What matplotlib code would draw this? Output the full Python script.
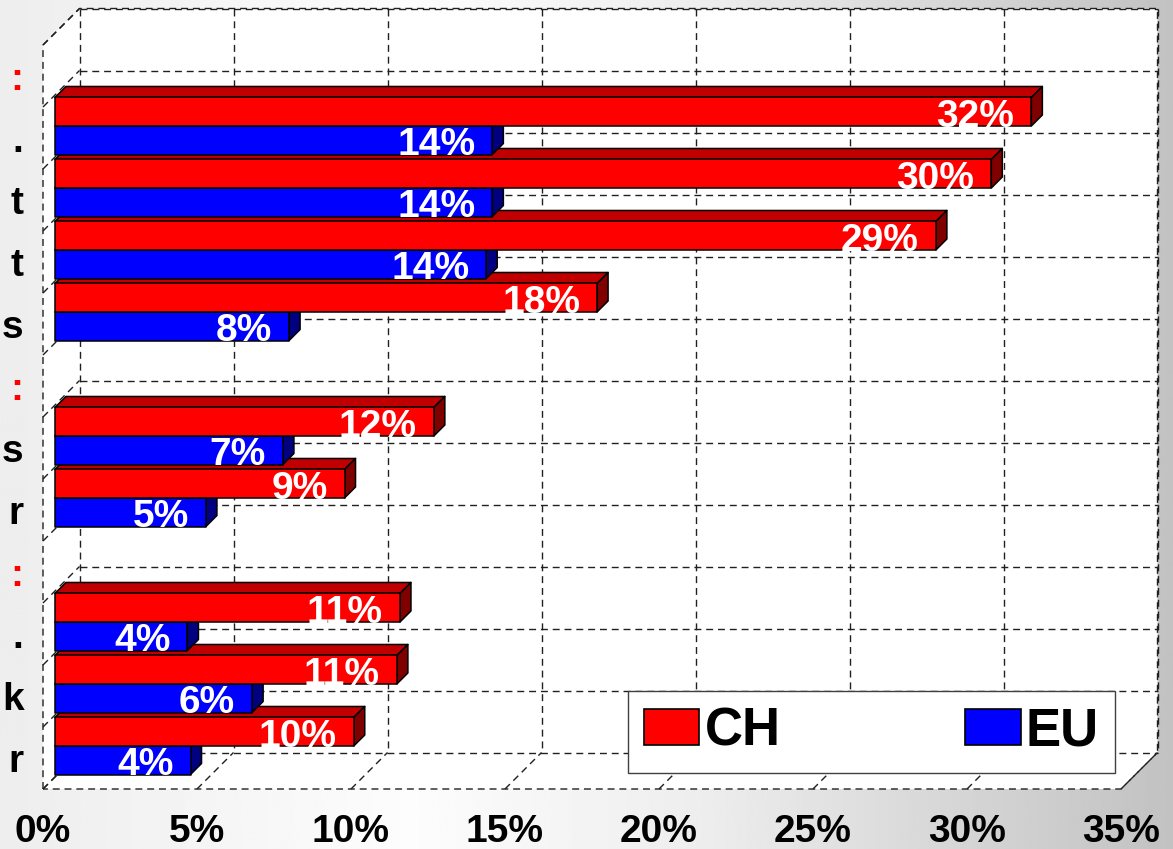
import numpy as np
import matplotlib
matplotlib.use("Agg")
import matplotlib.pyplot as plt
from matplotlib.patches import Polygon, Patch

plt.rcParams["font.family"] = ["Liberation Sans", "DejaVu Sans"]
plt.rcParams["font.weight"] = "bold"

# category rows, top to bottom (left part of the labels is cut off in the source)
row_labels = [":", ".", "t", "t", "s", ":", "s", "r", ":", ".", "k", "r"]
header_rows = [0, 5, 8]
bar_rows = [1, 2, 3, 4, 6, 7, 9, 10, 11]
ch = [31.7, 30.4, 28.6, 17.6, 12.3, 9.4, 11.2, 11.1, 9.7]
eu = [14.2, 14.2, 14.0, 7.6, 7.4, 4.9, 4.3, 6.4, 4.4]
x_ticks = [0, 5, 10, 15, 20, 25, 30, 35]

W, H = 1173, 849
fig = plt.figure(figsize=(W / 100, H / 100), dpi=100)

# background gradient
bg = fig.add_axes([0, 0, 1, 1], zorder=-10)
xs = np.linspace(0, 1, 400)
shade = np.interp(xs, [0, 0.35, 0.6, 1.0], [0.93, 0.99, 0.93, 0.76])
bg.imshow(shade[None, :], cmap="gray", vmin=0, vmax=1, aspect="auto",
          extent=[0, 1, 0, 1])
bg.axis("off")

# front plane of the 3D box
left, right, top, bottom = 43, 1121, 45, 789
ax = fig.add_axes([left / W, 1 - bottom / H, (right - left) / W, (bottom - top) / H])
nrows = len(row_labels)
xmax = x_ticks[-1]
ax.set_xlim(0, xmax)
ax.set_ylim(nrows, 0)
ax.patch.set_visible(False)
for s in ax.spines.values():
    s.set_visible(False)

ux = xmax / (right - left)
uy = nrows / (bottom - top)


def sh(x, y, d):
    # move a point d pixels back into the depth (up and to the right)
    return (x + d * ux, y - d * uy)


D_BAR0, D_BAR1, D_WALL = 12, 23, 36.5
dash = dict(color="#202020", lw=1.0, ls=(0, (5, 3.5)), clip_on=False, zorder=1)

# white box: front-left edge, back wall, floor
box = [(0, nrows), (0, 0), sh(0, 0, D_WALL), sh(xmax, 0, D_WALL),
       sh(xmax, nrows, D_WALL), (xmax, nrows)]
ax.add_patch(Polygon(box, closed=True, facecolor="white", edgecolor="none",
                     clip_on=False, zorder=0))
ax.add_patch(Polygon(box, closed=True, fill=False, clip_on=False, zorder=1,
                     edgecolor="#202020", lw=1.0, ls=(0, (5, 3.5))))

# back wall grid, floor and left wall lines
for xv in x_ticks:
    p0, p1 = sh(xv, 0, D_WALL), sh(xv, nrows, D_WALL)
    ax.plot([p0[0], p1[0]], [p0[1], p1[1]], **dash)
    f0, f1 = (xv, nrows), sh(xv, nrows, D_WALL)
    ax.plot([f0[0], f1[0]], [f0[1], f1[1]], **dash)
for yv in range(nrows + 1):
    p0, p1 = sh(0, yv, D_WALL), sh(xmax, yv, D_WALL)
    ax.plot([p0[0], p1[0]], [p0[1], p1[1]], **dash)
    f0, f1 = (0, yv), sh(0, yv, D_WALL)
    ax.plot([f0[0], f1[0]], [f0[1], f1[1]], **dash)


def bar3d(val, y0, y1, front, topc, side, z):
    a = sh(0, y0, D_BAR0)
    b = sh(val, y0, D_BAR0)
    c = sh(val, y1, D_BAR0)
    d = sh(0, y1, D_BAR0)
    kw = dict(closed=True, edgecolor="black", lw=1.1, clip_on=False,
              zorder=z, joinstyle="round")
    ax.add_patch(Polygon([a, b, sh(val, y0, D_BAR1), sh(0, y0, D_BAR1)],
                         facecolor=topc, **kw))
    ax.add_patch(Polygon([b, c, sh(val, y1, D_BAR1), sh(val, y0, D_BAR1)],
                         facecolor=side, **kw))
    ax.add_patch(Polygon([a, b, c, d], facecolor=front, **kw))
    return b[0], (a[1] + d[1]) / 2


labels = []
z = 2
for row, vc, ve in sorted(zip(bar_rows, ch, eu), reverse=True):
    # blue (lower) first, then red above it
    xe, ye = bar3d(ve, row + 0.5, row + 0.96, "#0000ff", "#0000b0", "#000080", z)
    xc, yc = bar3d(vc, row + 0.04, row + 0.5, "#ff0000", "#c00000", "#800000", z + 1)
    z += 2
    labels.append((xe, ye, ve))
    labels.append((xc, yc, vc))

for xv, yv, v in labels:
    ax.annotate(f"{round(v)}%", (xv, yv), xytext=(-17, -5), textcoords="offset pixels",
                ha="right", va="center", color="white", fontsize=28,
                fontweight="bold", zorder=100, annotation_clip=False)

ax.set_xticks(x_ticks)
ax.set_xticklabels([f"{t}%" for t in x_ticks], fontsize=28, fontweight="bold")
ax.set_yticks([r + 0.5 for r in range(nrows)])
ax.set_yticklabels(row_labels, fontsize=28, fontweight="bold")
for i, tl in enumerate(ax.get_yticklabels()):
    if i in header_rows:
        tl.set_color("red")
ax.tick_params(axis="x", length=0, pad=18)
ax.tick_params(axis="y", length=0, pad=14)

handles = [Patch(facecolor="#ff0000", edgecolor="black", lw=1.2, label="CH"),
           Patch(facecolor="#0000ff", edgecolor="black", lw=1.2, label="EU")]
leg = fig.legend(handles=handles, loc="upper left", ncol=2,
                 bbox_to_anchor=(628 / W, 1 - 691 / H), borderaxespad=0,
                 prop=dict(size=38, weight="bold"), frameon=True, fancybox=False,
                 edgecolor="#404040", framealpha=1, handlelength=1.05,
                 handleheight=0.68, handletextpad=0.1, borderpad=0.3,
                 columnspacing=3.5)
leg.get_frame().set_linewidth(1.0)
leg.set_zorder(200)

fig.savefig("out.png", dpi=100)
